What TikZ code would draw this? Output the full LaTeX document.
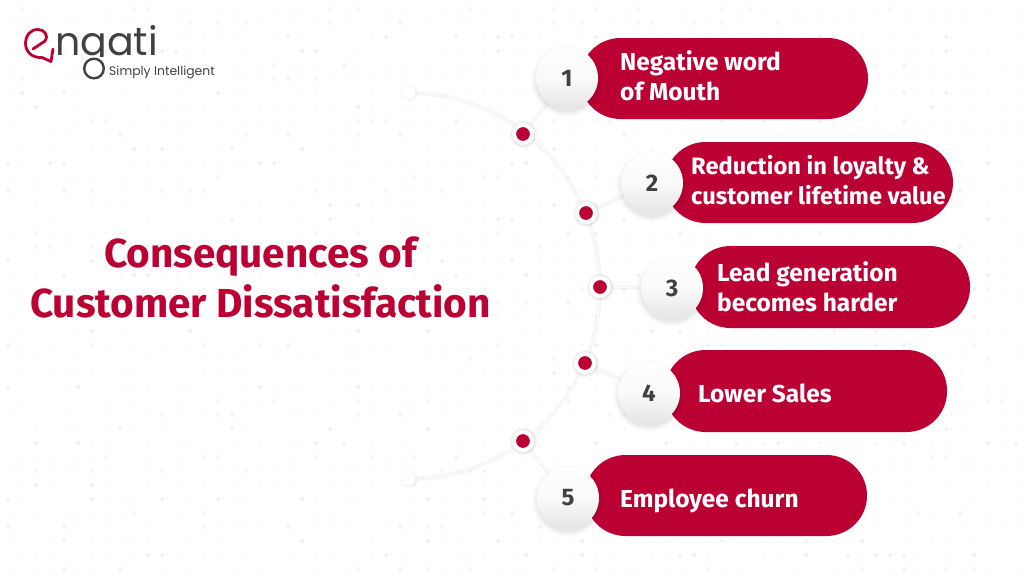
\documentclass[tikz,border=0pt]{standalone}
\usepackage{fontspec}
\setmainfont{Fira Sans}
\newfontfamily\logofont{Poppins}
\usetikzlibrary{calc}
\definecolor{crim}{HTML}{BB0033}
\definecolor{ink}{HTML}{3F4144}
\definecolor{speck}{HTML}{F3F3F3}
\definecolor{railc}{HTML}{FAFAFA}
\tikzset{
  x=1pt,y=-1pt,
  pill/.style={draw=none,fill=crim,rounded corners=40.5pt},
  pilltext/.style={text=white,font=\fontsize{24.5}{30}\selectfont\bfseries,align=left,anchor=west,inner sep=0pt},
  numc/.style={circle,minimum size=62pt,inner sep=0pt,top color=white,bottom color=black!10,middle color=white!98!black,text=ink,font=\fontsize{24}{28}\selectfont\bfseries},
  redd/.style={circle,minimum size=18pt,inner sep=0pt,outer sep=0pt,fill=crim,draw=white,line width=4pt},
  endd/.style={circle,minimum size=13pt,inner sep=0pt,fill=white},
  railhalo/.style={draw=black,opacity=.05,line width=3.6pt},
  rail/.style={draw=railc,line width=1.8pt},
}
\newcommand{\softshadow}[3]{%
  \foreach \rr/\oo in {5/.012,3.5/.018,2/.025,0.5/.035}{\fill[black,opacity=\oo] (#1,#2+3) circle ({#3+\rr});}}
\begin{document}
\begin{tikzpicture}
\useasboundingbox (0,0) rectangle (1024,576);
\fill[white] (0,0) rectangle (1024,576);
% background specks
\pgfmathsetseed{4242}
\foreach \i in {0,...,72}{\foreach \j in {0,...,40}{%
  \pgfmathsetmacro{\rad}{rnd<0.12?2.0:(rnd<0.45?1.1:0.7)}
  \fill[speck] ({8.3+14*\i},{9+14*\j}) circle (\rad);
}}
% rail
\coordinate (railtop) at (409,93);
\coordinate (railbot) at (409,479);
\coordinate (d1) at (523,134);\coordinate (d2) at (586,213);\coordinate (d3) at (600,287);\coordinate (d4) at (585,363);\coordinate (d5) at (523,441);
\coordinate (c1) at (567,78);\coordinate (c2) at (652,183);\coordinate (c3) at (672,288);\coordinate (c4) at (649,393);\coordinate (c5) at (568,498);
\foreach \st in {railhalo,rail}{
\draw[\st] (railtop) .. controls (514.5,93) and (600,180) .. (d3) .. controls (600,394) and (514.5,479) .. (railbot);
\draw[\st] (d1)--(c1); \draw[\st] (d2)--(c2); \draw[\st] (d3)--(c3); \draw[\st] (d4)--(c4); \draw[\st] (d5)--(c5);}
\foreach \n in {railtop,railbot}{\fill[black,opacity=.02] ($(\n)+(0.5,0.5)$) circle (8.5);\fill[black,opacity=.03] ($(\n)+(0.5,0.5)$) circle (7.2);}
\node[endd] (e1) at (railtop) {};
\node[endd] (e2) at (railbot) {};
% title
\node[font=\fontsize{40.5}{50}\selectfont\bfseries,text=crim,align=center] (title) at (260.5,277) {Consequences of\\Customer Dissatisfaction};
% pills
\draw[pill] (580,38) rectangle (868,119);
\draw[pill] (665,142) rectangle (953,223);
\draw[pill] (690,246) rectangle (970,328);
\draw[pill] (665,350) rectangle (947,432);
\draw[pill] (585,455) rectangle (867,536);
\node[pilltext] (t1) at (620,75.5) {Negative word\\of Mouth};
\node[pilltext,font=\fontsize{23.7}{30}\selectfont\bfseries] (t2) at (691,180.5) {Reduction in loyalty \&\\customer lifetime value};
\node[pilltext] (t3) at (717,287) {Lead generation\\becomes harder};
\node[pilltext] (t4) at (698,393) {Lower Sales};
\node[pilltext] (t5) at (620,500.5) {Employee churn};
\foreach \p/\q in {567/78,652/183,672/288,649/393,568/498}{\softshadow{\p}{\q}{31}}
\node[numc] (n1) at (c1) {1};
\node[numc] (n2) at (c2) {2};
\node[numc] (n3) at (c3) {3};
\node[numc] (n4) at (c4) {4};
\node[numc] (n5) at (c5) {5};
\foreach \n in {d1,d2,d3,d4,d5}{\fill[black,opacity=.04] ($(\n)+(0.5,0.5)$) circle (13.5);\fill[black,opacity=.05] ($(\n)+(0.5,0.5)$) circle (12.2);}
\node[redd] (r1) at (d1) {};
\node[redd] (r2) at (d2) {};
\node[redd] (r3) at (d3) {};
\node[redd] (r4) at (d4) {};
\node[redd] (r5) at (d5) {};
% logo
\draw[crim,line width=2.8pt,line join=round,line cap=round] (33,49) -- (45,41) .. controls (49,35) and (44,29.5) .. (38,29.5) .. controls (30,29.5) and (25.5,36) .. (25.5,43) .. controls (25.5,52) and (32,58) .. (42,57.5) -- (51,61.5) -- (53,49);
\node[anchor=base west,inner sep=0pt,font=\logofont\fontsize{39.5}{40}\selectfont\color{ink}] (lg) at (55,55) {ngati};
\fill[white] (80,56.5) rectangle (109,80);
\draw[ink,line width=2.4pt] (94,68.5) circle (9.8);
\node[anchor=base west,inner sep=0pt,font=\logofont\fontsize{12.4}{14}\selectfont\color{ink}] (tag) at (109,75) {Simply Intelligent};
\end{tikzpicture}
\end{document}
